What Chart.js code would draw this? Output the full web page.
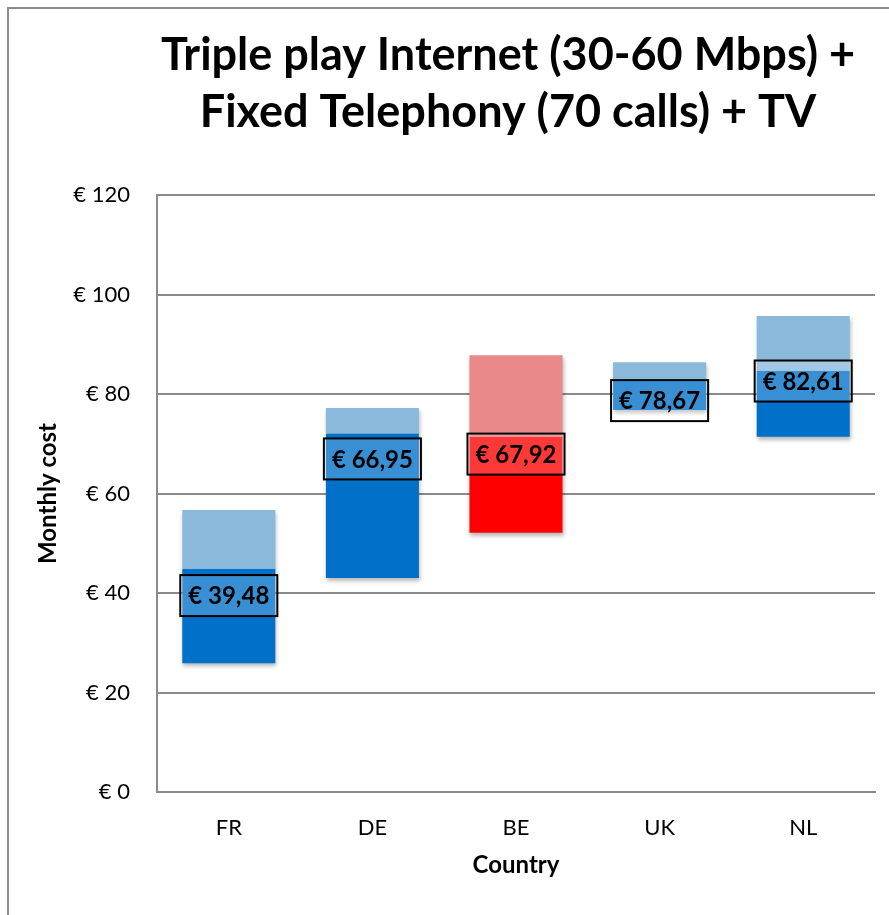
<!DOCTYPE html>
<html>
<head>
<meta charset="utf-8">
<title>Triple play monthly cost</title>
<script src="https://cdn.jsdelivr.net/npm/chart.js@4"></script>
<style>
  html, body { margin: 0; padding: 0; background: #ffffff; overflow: hidden; }
  #frame {
    position: absolute; left: 7px; top: 7px;
    width: 1100px; height: 1000px;
    border-left: 2px solid #8c8c8c; border-top: 2px solid #8c8c8c;
  }
  #chart { position: absolute; left: 0; top: 0; }
</style>
</head>
<body>
<div id="frame"><canvas id="chart" width="998" height="906"></canvas></div>
<script>
// Monthly cost ranges per country (EUR)
const countries = ['FR', 'DE', 'BE', 'UK', 'NL'];
const lowestCost  = [25.9, 43.0, 52.1, 76.8, 71.4];
const middleCost  = [44.8, 72.0, 71.4, 82.6, 84.6];
const highestCost = [56.7, 77.2, 87.8, 86.4, 95.7];
const averageCost = [39.48, 66.95, 67.92, 78.67, 82.61];
const yTicks = [0, 20, 40, 60, 80, 100, 120];

const FONT = 'Lato, "Open Sans", sans-serif';
const highlight = 'BE';
const darkColors  = countries.map(c => c === highlight ? 'rgb(255,0,0)' : 'rgb(0,112,200)');
const lightColors = countries.map(c => c === highlight ? 'rgb(233,137,137)' : 'rgb(138,185,220)');

const euro = v => '€ ' + v.toFixed(2).replace('.', ',');

// soft drop shadow under the bars
const barShadow = {
  id: 'barShadow',
  beforeDatasetsDraw(chart) {
    const ctx = chart.ctx;
    ctx.save();
    ctx.shadowColor = 'rgba(0,0,0,0.28)';
    ctx.shadowBlur = 4;
    ctx.shadowOffsetX = 1;
    ctx.shadowOffsetY = 3;
  },
  afterDatasetsDraw(chart) { chart.ctx.restore(); }
};

// boxed average price label on each bar
const averageBoxes = {
  id: 'averageBoxes',
  afterDatasetsDraw(chart) {
    const ctx = chart.ctx;
    const xs = chart.scales.x, ys = chart.scales.y;
    ctx.save();
    ctx.font = 'bold 24px ' + FONT;
    ctx.textAlign = 'center';
    ctx.textBaseline = 'middle';
    averageCost.forEach((v, i) => {
      const x = xs.getPixelForValue(i);
      const y = ys.getPixelForValue(v);
      const text = euro(v);
      const w = ctx.measureText(text).width + 16;
      const h = 41;
      ctx.fillStyle = 'rgba(255,255,255,0.22)';
      ctx.fillRect(x - w / 2, y - h / 2, w, h);
      ctx.lineWidth = 2;
      ctx.strokeStyle = '#000000';
      ctx.strokeRect(x - w / 2, y - h / 2, w, h);
      ctx.fillStyle = '#000000';
      ctx.fillText(text, x, y + 1);
    });
    ctx.restore();
  }
};

new Chart(document.getElementById('chart'), {
  type: 'bar',
  data: {
    labels: countries,
    datasets: [
      {
        label: 'Lower range',
        data: countries.map((c, i) => [lowestCost[i], middleCost[i]]),
        backgroundColor: darkColors,
        grouped: false,
        borderSkipped: false
      },
      {
        label: 'Upper range',
        data: countries.map((c, i) => [middleCost[i], highestCost[i]]),
        backgroundColor: lightColors,
        grouped: false,
        borderSkipped: false
      }
    ]
  },
  options: {
    responsive: false,
    animation: false,
    devicePixelRatio: 1,
    categoryPercentage: 0.648,
    barPercentage: 1,
    layout: { padding: { left: 0, right: 0, top: 0, bottom: 23 } },
    plugins: {
      legend: { display: false },
      tooltip: { enabled: false },
      title: {
        display: true,
        text: ['Triple play Internet (30-60 Mbps) +', 'Fixed Telephony (70 calls) + TV'],
        color: '#000000',
        font: { family: FONT, weight: 'bold', size: 45, lineHeight: 57 / 45 },
        padding: { top: 18, bottom: 54 }
      }
    },
    scales: {
      x: {
        grid: { display: false, drawTicks: false },
        border: { display: true, color: '#8a8a8a', width: 2 },
        ticks: { color: '#000000', padding: 23, font: { family: FONT, size: 22 } },
        title: {
          display: true, text: 'Country', color: '#000000',
          font: { family: FONT, weight: 'bold', size: 24 },
          padding: { top: 0, bottom: 12 }
        },
        afterFit(scale) { scale.height = 100; }
      },
      y: {
        min: 0, max: 120,
        afterBuildTicks(scale) { scale.ticks = yTicks.map(v => ({ value: v })); },
        grid: { color: '#8a8a8a', lineWidth: 2, drawTicks: false },
        border: { display: true, color: '#8a8a8a', width: 2 },
        ticks: {
          color: '#000000', padding: 27,
          font: { family: FONT, size: 22 },
          callback: v => '€ ' + v
        },
        title: {
          display: true, text: 'Monthly cost', color: '#000000',
          font: { family: FONT, weight: 'bold', size: 24 },
          padding: { top: 25, bottom: 0 }
        },
        afterFit(scale) { scale.width = 148; }
      },
      // empty margin to the right of the plot area
      rightMargin: {
        position: 'right',
        grid: { display: false, drawTicks: false },
        border: { display: false },
        ticks: { display: false },
        afterFit(scale) { scale.width = 132; }
      }
    }
  },
  plugins: [barShadow, averageBoxes]
});
</script>
</body>
</html>
